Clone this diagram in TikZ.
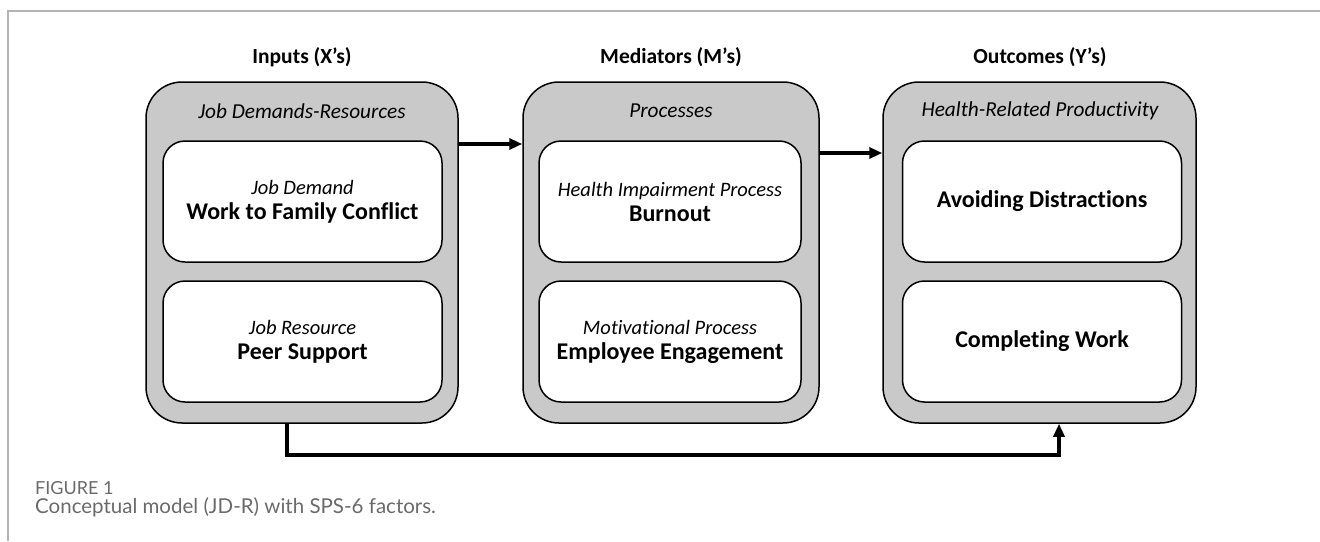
\documentclass[tikz,border=0pt]{standalone}
\usepackage{fontspec}
\setmainfont{Carlito}[Ligatures=CommonOff]
\newfontfamily\capfont{Lato}
\usepackage{tikz}
\usetikzlibrary{arrows.meta}

\definecolor{panelgray}{HTML}{C9C9C9}
\definecolor{framegray}{HTML}{B4B4B4}
\definecolor{captiongray}{HTML}{6A6A6A}

\begin{document}
\begin{tikzpicture}[
    x=1pt, y=-1pt,
    panel/.style={draw, line width=1.5pt, fill=panelgray, rounded corners=36pt, inner sep=0pt, minimum height=341pt},
    cell/.style={draw, line width=1.5pt, fill=white, rounded corners=22pt, inner sep=0pt, minimum height=121pt, align=center, font=\fontsize{24}{26}\selectfont},
    heading/.style={font=\bfseries\fontsize{21.5}{24}\selectfont},
    subhead/.style={font=\itshape\fontsize{21.3}{24}\selectfont},
    flow/.style={line width=3.5pt, -{Triangle[length=13pt,width=11pt]}}
]
\useasboundingbox (0,0) rectangle (1320,541);

% page frame
\draw[framegray, line width=1.5pt] (1320,11) -- (8,11) -- (8,541);

% column headings
\node[heading] (hin)  at (302,57)  {Inputs (X’s)};
\node[heading] (hmed) at (671,57)  {Mediators (M’s)};
\node[heading] (hout) at (1040,57) {Outcomes (Y’s)};

% grey panels
\node[panel, minimum width=312pt] (inputs)    at (302,252.5)  {};
\node[panel, minimum width=296pt] (mediators) at (671,252.5)  {};
\node[panel, minimum width=313pt] (outcomes)  at (1039.5,252.5) {};

\node[subhead] (sin)  at (302,111)  {Job Demands-Resources};
\node[subhead] (smed) at (671,111)  {Processes};
\node[subhead] (sout) at (1040,111) {Health-Related Productivity};

% white boxes
\newcommand{\cellkind}[1]{{\itshape\fontsize{20.5}{22}\selectfont #1}\\[-1pt]}
\newcommand{\cellname}[1]{{\bfseries #1}}

\node[cell, minimum width=279pt] (wfc) at (302.5,201.5) {\cellkind{Job Demand}\cellname{Work to Family Conflict}};
\node[cell, minimum width=279pt] (peer) at (302.5,341.5) {\cellkind{Job Resource}\cellname{Peer Support}};
\node[cell, minimum width=262pt] (burn) at (670,201.5) {\cellkind{Health Impairment Process}\cellname{Burnout}};
\node[cell, minimum width=262pt] (engage) at (670,341.5) {\cellkind{Motivational Process}\cellname{Employee Engagement}};
\node[cell, minimum width=279pt] (avoid) at (1042,201.5) {\cellname{Avoiding Distractions}};
\node[cell, minimum width=279pt] (complete) at (1042,341.5) {\cellname{Completing Work}};

% paths between panels
\draw[flow] ([yshift=108.5pt]inputs.east) -- ([yshift=108.5pt]mediators.west);
\draw[flow] ([yshift=99.5pt]mediators.east) -- ([yshift=99.5pt]outcomes.west);
\draw[flow] ([xshift=-15pt]inputs.south) -- ++(0,31) -| ([xshift=19.5pt]outcomes.south);

% caption
\node[anchor=base west, inner sep=0pt, text=captiongray, font=\capfont\fontsize{18}{20}\selectfont] (fig) at (35,494) {FIGURE 1};
\node[anchor=base west, inner sep=0pt, text=captiongray, font=\capfont\fontsize{20.5}{23}\selectfont] (cap) at (35,513) {Conceptual model (JD-R) with SPS-6 factors.};

\end{tikzpicture}
\end{document}
